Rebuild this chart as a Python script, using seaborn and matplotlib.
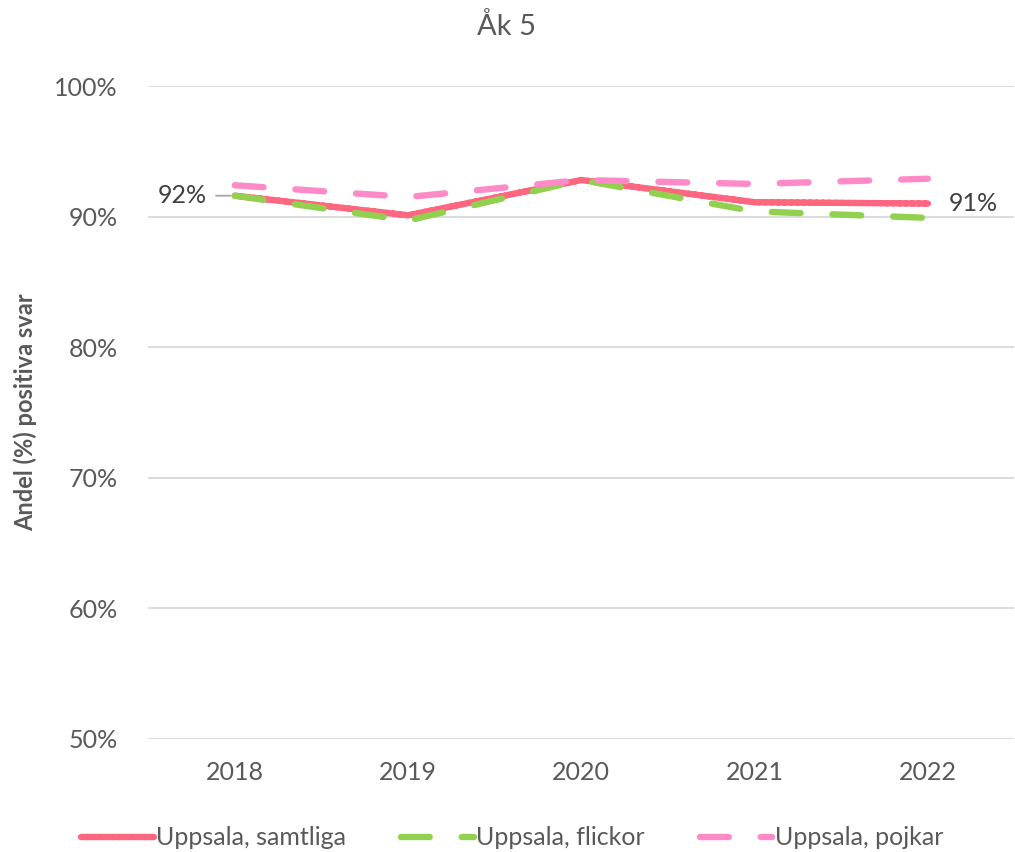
import pandas as pd
import matplotlib.pyplot as plt
import seaborn as sns
from matplotlib.ticker import PercentFormatter

years = ['2018', '2019', '2020', '2021', '2022']
samtliga = [91.6, 90.1, 92.8, 91.1, 91.0]
flickor = [91.6, 89.7, 92.8, 90.4, 89.9]
pojkar = [92.4, 91.5, 92.8, 92.5, 92.9]

series_names = ['Uppsala, samtliga', 'Uppsala, flickor', 'Uppsala, pojkar']
colors = ['#FF6680', '#92D050', '#FF8AC8']

df = pd.DataFrame({'year': years, series_names[0]: samtliga,
                   series_names[1]: flickor, series_names[2]: pojkar})
long_df = df.melt(id_vars='year', var_name='serie', value_name='andel')

sns.set_style('white')
plt.rcParams['font.family'] = ['Lato', 'DejaVu Sans']
text_color = '#595959'

fig, ax = plt.subplots(figsize=(10.15, 8.52), dpi=100)
fig.subplots_adjust(left=0.146, right=0.9995, top=0.899, bottom=0.133)

sns.lineplot(data=long_df, x='year', y='andel', hue='serie', style='serie',
             hue_order=series_names, style_order=series_names,
             palette=colors, dashes=[(1, 0), (4.5, 5), (4.5, 5)],
             linewidth=4.6, ax=ax, legend=True)
for line in ax.lines:
    line.set_dash_capstyle('round')
    line.set_solid_capstyle('round')

ax.set_ylim(50, 100)
ax.set_xlim(-0.5, 4.5)
ax.set_yticks([50, 60, 70, 80, 90, 100])
ax.yaxis.set_major_formatter(PercentFormatter(decimals=0))
ax.grid(axis='y', color='#D9D9D9', linewidth=1.3)
ax.set_axisbelow(True)
for s in ax.spines.values():
    s.set_visible(False)
ax.tick_params(axis='both', length=0, labelsize=18, colors=text_color)
ax.tick_params(axis='y', pad=22)
ax.tick_params(axis='x', pad=16)

ax.set_xlabel('')
ax.set_ylabel('Andel (%) positiva svar', fontsize=17, fontweight='bold',
              color=text_color, labelpad=12)
ax.set_title('Åk 5', fontsize=21, color=text_color, pad=37, x=0.414)

# data labels for samtliga
ax.annotate(f'{samtliga[0]:.0f}%', xy=(0, samtliga[0]), xytext=(-0.16, samtliga[0]),
            ha='right', va='center', fontsize=18, color='#404040',
            arrowprops=dict(arrowstyle='-', color='#A6A6A6', lw=1.3,
                            shrinkA=4, shrinkB=3))
ax.annotate(f'{samtliga[-1]:.0f}%', xy=(4, samtliga[-1]), xytext=(15, 0),
            textcoords='offset points', ha='left', va='center',
            fontsize=18, color='#404040')

handles, labels = ax.get_legend_handles_labels()
ax.legend(handles, labels, loc='upper center', bbox_to_anchor=(0.42, -0.1),
          ncol=3, frameon=False, fontsize=18, labelcolor=text_color,
          handlelength=2.9, handletextpad=0.1, columnspacing=2.2)

fig.savefig('out.png', dpi=100)
